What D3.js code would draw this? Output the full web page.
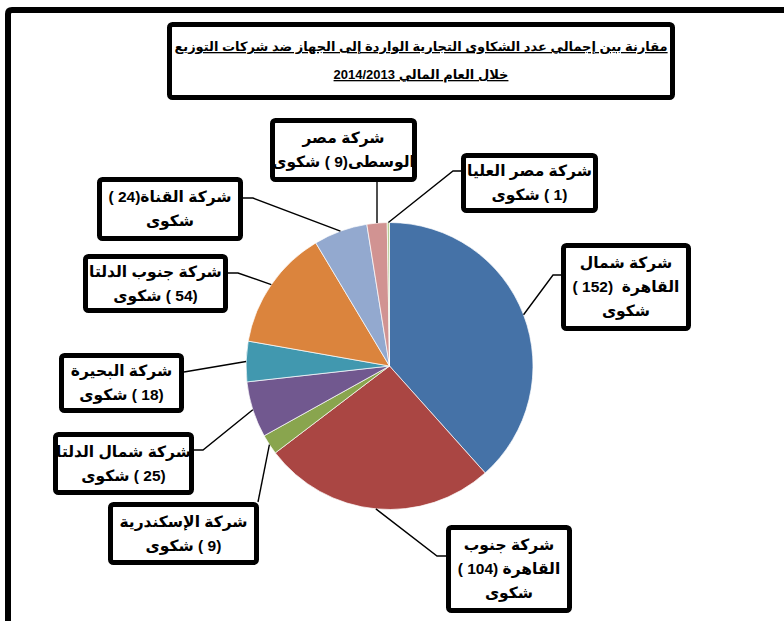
<!DOCTYPE html>
<html>
<head>
<meta charset="utf-8">
<script src="https://cdn.jsdelivr.net/npm/d3@7"></script>
<style>
  html, body { margin: 0; padding: 0; background: #fff; }
  svg { display: block; }
  text { font-family: Arial, "Liberation Sans", "DejaVu Sans", sans-serif; font-weight: bold; fill: #000; white-space: pre; }
</style>
</head>
<body>
<svg id="chart" width="784" height="621"></svg>
<script>
// chart data (pie order, clockwise from 12 o'clock)
const companies = ["شمال القاهرة", "جنوب القاهرة", "الإسكندرية", "شمال الدلتا", "البحيرة",
                   "جنوب الدلتا", "القناة", "مصر الوسطى", "مصر العليا"];
const complaints = [152, 104, 9, 25, 18, 54, 24, 9, 1];
const sliceColors = ["#4572A7", "#AA4643", "#89A54E", "#71588F", "#4198AF",
                     "#DB843D", "#93A9CF", "#D19392", "#B9CD96"];
// label text lines ({v} = value)
const labelLines = [
    ["شركة شمال", "القاهرة  ({v} )", "شكوى"],
    ["شركة جنوب", "القاهرة ({v} )", "شكوى"],
    ["شركة الإسكندرية", "({v} ) شكوى"],
    ["شركة شمال الدلتا", "({v} ) شكوى"],
    ["شركة البحيرة", "({v} ) شكوى"],
    ["شركة جنوب الدلتا", "({v} ) شكوى"],
    ["شركة القناة({v} )", "شكوى"],
    ["شركة مصر", "الوسطى({v} ) شكوى"],
    ["شركة مصر العليا", "({v} ) شكوى"]
];
const titleLines = ["مقارنة بين إجمالي عدد الشكاوى التجارية الواردة إلى الجهاز ضد شركات التوزيع",
                    "خلال العام المالي 2014/2013"];

// layout: label boxes [x0, y0, x1, y1] and leader elbow / anchor points
const labelLayout = [
    {box: [561, 243, 691, 331], elbow: [553, 275], anchor: [562, 275]},
    {box: [446, 525, 572, 613], elbow: [437, 556], anchor: [447, 556]},
    {box: [108, 502, 259, 565], elbow: [258, 502], anchor: [258, 502]},
    {box: [53, 432, 194, 495], elbow: [203, 450], anchor: [194, 450]},
    {box: [59, 353, 184, 413], elbow: [184, 372], anchor: [184, 372]},
    {box: [83, 254, 228, 313], elbow: [238, 273], anchor: [228, 273]},
    {box: [97, 177, 243, 241], elbow: [253, 198], anchor: [243, 198]},
    {box: [270, 118, 417, 182], elbow: [377, 182], anchor: [377, 182]},
    {box: [461, 153, 598, 213], elbow: [453, 171], anchor: [461, 171]}
];

const svg = d3.select("#chart");
const cx = 389.5, cy = 366, radius = 143.5;

// outer frame (runs off the right and bottom edges)
svg.append("path")
    .attr("d", "M8,640 L8,14 Q8,10 12,10 L800,10")
    .attr("fill", "none")
    .attr("stroke", "#000")
    .attr("stroke-width", 6);

// title box
svg.append("rect")
    .attr("x", 169.5).attr("y", 24.5)
    .attr("width", 503).attr("height", 73)
    .attr("rx", 3)
    .attr("fill", "#fff")
    .attr("stroke", "#000")
    .attr("stroke-width", 5);

titleLines.forEach(function(line, i) {
    svg.append("text")
        .attr("x", 421)
        .attr("y", i == 0 ? 51 : 79)
        .attr("text-anchor", "middle")
        .attr("direction", "rtl")
        .style("font-size", "13px")
        .style("text-decoration", "underline")
        .text(line);
});

// pie
const pie = d3.pie().sort(null).value(d => d);
const arcs = pie(complaints);
const arc = d3.arc().innerRadius(0).outerRadius(radius);
const edgeArc = d3.arc().innerRadius(radius).outerRadius(radius);

const g = svg.append("g").attr("transform", "translate(" + cx + "," + cy + ")");
g.selectAll("path.slice")
    .data(arcs)
    .join("path")
    .attr("class", "slice")
    .attr("d", arc)
    .attr("fill", (d, i) => sliceColors[i])
    .attr("stroke", "#fff")
    .attr("stroke-width", 0.7);

// leader lines
arcs.forEach(function(d, i) {
    const p = edgeArc.centroid(d);
    const lay = labelLayout[i];
    svg.append("path")
        .attr("d", d3.line()([[cx + p[0], cy + p[1]], lay.elbow, lay.anchor]))
        .attr("fill", "none")
        .attr("stroke", "#000")
        .attr("stroke-width", 1.4);
});

// label boxes
const LINE_H = 24;
arcs.forEach(function(d, i) {
    const lay = labelLayout[i];
    const [x0, y0, x1, y1] = lay.box;
    svg.append("rect")
        .attr("x", x0 + 2.5).attr("y", y0 + 2.5)
        .attr("width", x1 - x0 - 5).attr("height", y1 - y0 - 5)
        .attr("rx", 3)
        .attr("fill", "#fff")
        .attr("stroke", "#000")
        .attr("stroke-width", 5);

    const lines = labelLines[i];
    const midX = (x0 + x1) / 2, midY = (y0 + y1) / 2;
    lines.forEach(function(line, j) {
        svg.append("text")
            .attr("x", midX)
            .attr("y", midY + (j - (lines.length - 1) / 2) * LINE_H)
            .attr("dy", "0.35em")
            .attr("text-anchor", "middle")
            .attr("direction", "rtl")
            .style("font-size", "15.5px")
            .text(line.replace("{v}", complaints[i]));
    });
});
</script>
</body>
</html>
